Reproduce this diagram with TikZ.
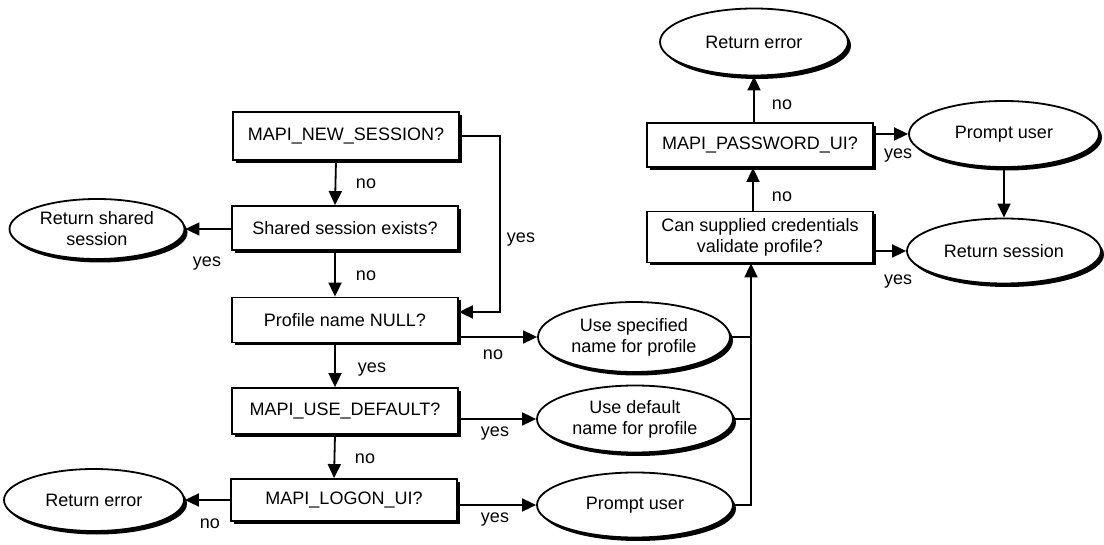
\documentclass[tikz,border=0pt]{standalone}
\usepackage{fontspec}
\setmainfont{Liberation Sans}
\usetikzlibrary{shapes.geometric,arrows.meta,shadows}

\begin{document}
\begin{tikzpicture}[x=1pt, y=-1pt, line width=1.8pt,
		every node/.style={font=\fontsize{18}{21}\selectfont},
		box/.style={draw, fill=white, rectangle, minimum width=226pt, minimum height=46pt, inner sep=0pt, align=center,
			drop shadow={shadow xshift=2.5pt, shadow yshift=-3pt, fill=black, opacity=1}},
		oval/.style={draw, fill=white, ellipse, inner sep=0pt, align=center,
			drop shadow={shadow xshift=3pt, shadow yshift=-3.5pt, fill=black, opacity=1}},
		arr/.style={-{Triangle[length=14pt,width=13pt]}},
		lbl/.style={inner sep=0pt}]
		\useasboundingbox (0,0) rectangle (1104,545);
		
		% Left column of tests
		\node[box, minimum height=48pt] (newsess) at (346,136) {MAPI\_NEW\_SESSION?};
		\node[box, minimum height=44pt] (shared) at (345,228) {Shared session exists?};
		\node[box, minimum height=45pt] (profnull) at (345,320) {Profile name NULL?};
		\node[box] (usedef) at (345,411) {MAPI\_USE\_DEFAULT?};
		\node[box, minimum height=42pt] (logonui) at (344,500) {MAPI\_LOGON\_UI?};
		
		% Outcomes on the left
		\node[oval, minimum width=175pt, minimum height=60pt] (retshared) at (97,229) {Return shared\\session};
		\node[oval, minimum width=180pt, minimum height=62pt] (reterrlow) at (94,500) {Return error};
		
		% Profile name choices
		\node[oval, minimum width=192pt, minimum height=70pt] (usespec) at (634,337) {Use specified\\name for profile};
		\node[oval, minimum width=196pt, minimum height=67pt] (usedefname) at (635,419) {Use default\\name for profile};
		\node[oval, minimum width=196pt, minimum height=65pt] (promptlow) at (635,505) {Prompt user};
		
		% Right column
		\node[box, minimum height=51pt] (canvalid) at (760,237) {Can supplied credentials\\validate profile?};
		\node[box, minimum height=44pt] (pwui) at (760,145) {MAPI\_PASSWORD\_UI?};
		\node[oval, minimum width=188pt, minimum height=67pt] (reterrtop) at (754,42) {Return error};
		\node[oval, minimum width=190pt, minimum height=66pt] (promptup) at (1004,134) {Prompt user};
		\node[oval, minimum width=194pt, minimum height=65pt] (retsess) at (1004,251) {Return session};
		
		% Connectors, left column
		\draw[arr] ([xshift=-10pt]newsess.south) -- ([xshift=-10pt]shared.north);
		\draw[arr] ([xshift=-10pt]shared.south) -- ([xshift=-10pt]profnull.north);
		\draw[arr] ([xshift=-10pt]profnull.south) -- ([xshift=-10pt]usedef.north);
		\draw[arr] ([xshift=-10pt]usedef.south) -- ([xshift=-10pt]logonui.north);
		\draw[arr] (newsess.east) -- ++(40,0) |- ([yshift=8pt]profnull.east);
		\draw[arr] (shared.west |- retshared) -- (retshared.east);
		\draw[arr] (logonui.west |- reterrlow) -- (reterrlow.east);
		\draw[arr] (profnull.east |- usespec) -- (usespec.west);
		\draw[arr] (usedef.east |- usedefname) -- (usedefname.west);
		\draw[arr] (logonui.east |- promptlow) -- (promptlow.west);
		
		% Collector into the credentials test
		\coordinate (collect) at ([xshift=-9pt]canvalid.south);
		\draw (usespec.east) -- (usespec.east -| collect);
		\draw (usedefname.east) -- (usedefname.east -| collect);
		\draw[arr] (promptlow.east) -| (collect);
		
		% Connectors, right column
		\draw[arr] ([xshift=-7pt]canvalid.north) -- ([xshift=-7pt]pwui.south);
		\draw[arr] (pwui.north -| reterrtop) -- (reterrtop.south);
		\draw[arr] (pwui.east |- promptup) -- (promptup.west);
		\draw[arr] (canvalid.east |- retsess) -- (retsess.west);
		\draw[arr] (promptup.south) -- (retsess.north);
		
		% Labels
		\foreach \x/\y/\t [count=\i] in {366/184/no, 207/264/yes, 366/276/no, 521/240/yes, 493/355/no,
			372/370/yes, 495/434/yes, 365/459/no, 210/524/no, 495/520/yes, 782/105/no, 782/197/no,
			898/156/yes, 898/282/yes}
		\node[lbl] (lab\i) at (\x,\y) {\t};
	\end{tikzpicture}
\end{document}
